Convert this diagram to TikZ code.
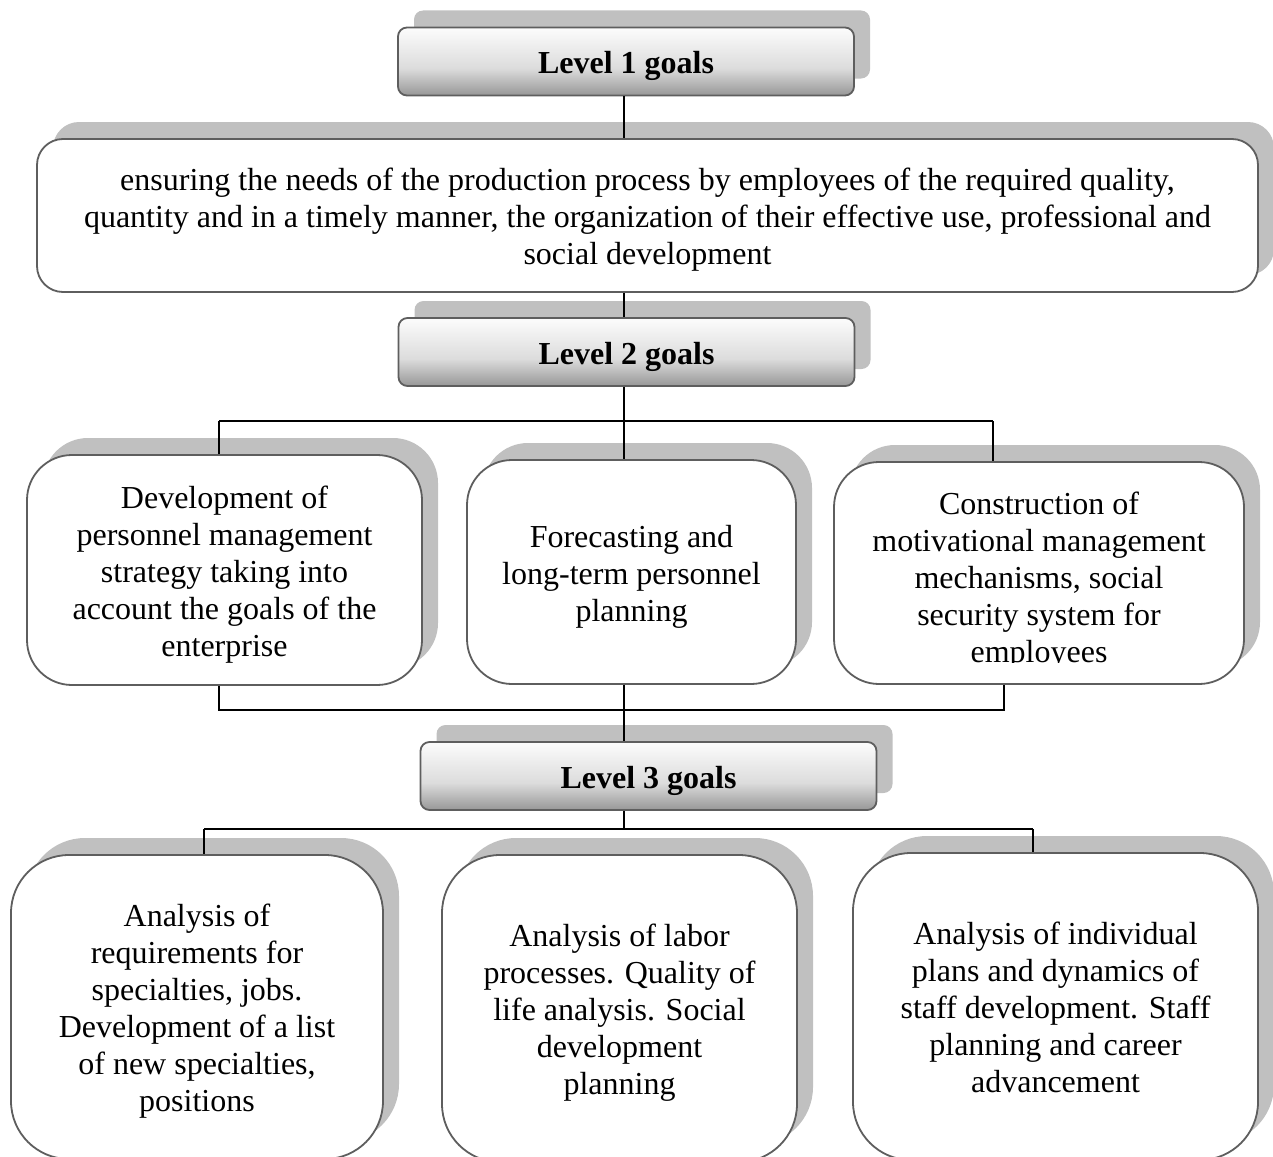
\documentclass[tikz,border=0pt]{standalone}
\usepackage{fontspec}
\setmainfont{Liberation Serif}
\usetikzlibrary{shadows}
\definecolor{shadowgray}{HTML}{C0C0C0}
\definecolor{edgegray}{HTML}{5E5E5E}
\definecolor{lvtop}{HTML}{FCFCFC}
\definecolor{lvmid}{HTML}{DCDCDC}
\definecolor{lvbot}{HTML}{979797}
\pgfdeclareverticalshading{lvlshade}{100bp}{color(0bp)=(lvbot); color(25bp)=(lvbot); color(45bp)=(lvmid); color(75bp)=(lvtop); color(100bp)=(lvtop)}
\newcommand\fsl{\rule{0pt}{38pt}}
\newcommand\lsl{\rule[-14pt]{0pt}{0pt}}
\tikzset{
  txt/.style={inner sep=0pt, align=center, font=\fontsize{32}{37}\selectfont},
  base/.style={txt, draw=edgegray, line width=1.8pt, fill=white,
    general shadow={fill=shadowgray, shadow xshift=16pt, shadow yshift=17pt}},
  lvl/.style={base, rounded corners=9pt, shading=lvlshade,
    font=\bfseries\fontsize{32}{37}\selectfont, minimum width=456pt, minimum height=68pt},
  midbox/.style={base, rounded corners=45pt},
  lowbox/.style={base, rounded corners=58pt},
  conn/.style={line width=1.8pt, black}
}
\begin{document}
\begin{tikzpicture}[x=1pt,y=-1pt]
\useasboundingbox (0,0) rectangle (1273,1156);
\clip (0,0) rectangle (1273,1156);
\node[lvl] (L1) at (626,61.5) {\fsl Level 1 goals\lsl};
\node[base, rounded corners=26pt, minimum width=1221pt, minimum height=153pt] (big) at (647.5,215.5)
  {\fsl ensuring the needs of the production process by employees of the required quality,\\
   quantity and in a timely manner, the organization of their effective use, professional and\\
   social development\lsl};
\node[lvl] (L2) at (626.5,352) {\fsl Level 2 goals\lsl};
\node[midbox, minimum width=395pt, minimum height=230pt] (m1) at (224.5,570)
  {\fsl Development of\\ personnel management\\ strategy taking into\\ account the goals of the\\ enterprise\lsl};
\node[midbox, minimum width=329pt, minimum height=224pt] (m2) at (631.5,572)
  {\fsl Forecasting and\\ long-term personnel\\ planning\lsl};
\node[midbox, minimum width=410pt, minimum height=222pt] (m3) at (1039,573) {};
\begin{scope}
  \clip (834,462) rectangle (1244,662);
  \node[txt] (m3t) at (1039,576.5)
    {\fsl Construction of\\ motivational management\\ mechanisms, social\\ security system for\\ employees\lsl};
\end{scope}
\node[lvl] (L3) at (648.5,776) {\fsl Level 3 goals\lsl};
\node[lowbox, minimum width=372pt, minimum height=304pt] (b1) at (197,1007)
  {\fsl Analysis of\\ requirements for\\ specialties, jobs.\\ Development of a list\\ of new specialties,\\ positions\lsl};
\node[lowbox, minimum width=355pt, minimum height=307pt] (b2) at (619.5,1008.5)
  {\fsl Analysis of labor\\ processes. Quality of\\ life analysis. Social\\ development\\ planning\lsl};
\node[lowbox, minimum width=405pt, minimum height=307pt] (b3) at (1055.5,1006.5)
  {\fsl Analysis of individual\\ plans and dynamics of\\ staff development. Staff\\ planning and career\\ advancement\lsl};
\coordinate (cx) at (624,0);
\coordinate (ja) at (219,421);
\coordinate (jb) at (993,421);
\coordinate (ka) at (219,710);
\coordinate (kb) at (1004,710);
\coordinate (la) at (204,829);
\coordinate (lb) at (1033,829);
\draw[conn] (cx |- L1.south) -- (cx |- big.north);
\draw[conn] (cx |- big.south) -- (cx |- L2.north);
\draw[conn] (cx |- L2.south) -- (cx |- ja);
\draw[conn] (ja) -- (jb);
\draw[conn] (ja) -- (ja |- m1.north);
\draw[conn] (cx |- ja) -- (cx |- m2.north);
\draw[conn] (jb) -- (jb |- m3.north);
\draw[conn] (ka |- m1.south) -- (ka) -- (kb) -- (kb |- m3.south);
\draw[conn] (cx |- m2.south) -- (cx |- L3.north);
\draw[conn] (cx |- L3.south) -- (cx |- la);
\draw[conn] (la) -- (lb);
\draw[conn] (la) -- (la |- b1.north);
\draw[conn] (lb) -- (lb |- b3.north);
\end{tikzpicture}
\end{document}
